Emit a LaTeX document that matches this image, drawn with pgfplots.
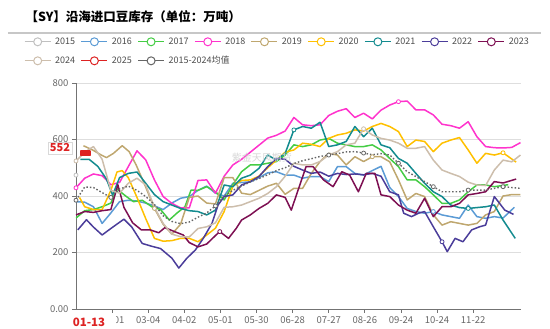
\documentclass[border=0pt]{standalone}
\usepackage{fontspec}
\setmainfont{Noto Sans CJK SC}
\usepackage{pgfplots}
\pgfplotsset{compat=1.18}
\definecolor{c15}{HTML}{C0C0C0}
\definecolor{c16}{HTML}{5B9BD5}
\definecolor{c17}{HTML}{44CC44}
\definecolor{c18}{HTML}{FF33CC}
\definecolor{c19}{HTML}{BFA76F}
\definecolor{c20}{HTML}{FFC000}
\definecolor{c21}{HTML}{138B8F}
\definecolor{c22}{HTML}{4B3D9A}
\definecolor{c23}{HTML}{7D0F52}
\definecolor{c24}{HTML}{CDBEAC}
\definecolor{c25}{HTML}{DD2222}
\definecolor{cavg}{HTML}{666666}
\definecolor{tickgray}{HTML}{666666}
\begin{document}
\begin{tikzpicture}[x=1pt,y=1pt]
\begin{axis}[
  scale only axis, width=445pt, height=226pt,
  xmin=0, xmax=51.06, ymin=0, ymax=800,
  axis x line=bottom, axis y line=left,
  axis line style={-, draw=black!55, line width=0.9pt},
  ymajorgrids, grid style={black!13, line width=0.8pt},
  ytick={0,200,400,600,800}, yticklabels={0.00,200,400,600,800},
  xtick={4.143,8.286,12.429,16.571,20.714,24.857,29.0,33.143,37.286,41.429,45.571},
  xticklabels={02-01,03-04,04-02,05-01,05-30,06-28,07-27,08-26,09-24,10-24,11-22},
  tick align=outside, major tick length=4pt,
  tick style={draw=black!55, line width=0.8pt},
  tick label style={text=tickgray, font=\fontsize{9.5}{11}\selectfont},
  legend columns=9,
  legend style={at={(-0.1236,1.212)}, anchor=north west, draw=none, fill=none,
    font=\fontsize{9}{10}\selectfont, text=black!70,
    nodes={inner sep=0pt},
    /tikz/every odd column/.append style={column sep=4pt},
    /tikz/every even column/.append style={column sep=1.7pt},
    row sep=10pt},
  legend image code/.code={
    \draw[#1, line width=1pt, solid] (0pt,0pt) -- (26pt,0pt);
    \draw[#1, line width=1pt, solid, fill=white] (13pt,0pt) circle (4pt);},
  every axis plot/.append style={line width=1.5pt, line join=round},
  mark options={solid, fill=white, line width=0.8pt}, mark size=2pt,
]
\addplot[c15, mark=*] coordinates {(0,474)};
\addlegendentry{\makebox[24pt][l]{2015}}
\addplot[c16, mark=*, mark indices={42}] coordinates {(0,380)(1,378)(2,362)(3,303)(4,340)(5,380)(6,385)(7,382)(8,375)(9,365)(10,352)(11,375)(12,392)(13,398)(14,420)(15,435)(16,410)(17,400)(18,445)(19,448)(20,450)(21,465)(22,482)(23,486)(24,474)(25,474)(26,463)(27,469)(28,469)(29,451)(30,504)(31,504)(32,480)(33,474)(34,490)(35,505)(36,430)(37,398)(38,356)(39,345)(40,339)(41,345)(42,333)(43,327)(44,321)(45,368)(46,327)(47,321)(48,327)(49,322)(50.3,360)};
\addlegendentry{\makebox[24pt][l]{2016}}
\addplot[c17] coordinates {(0,322)(1,348)(2,352)(3,362)(4,375)(4.7,425)(5.7,400)(6.6,380)(7.6,385)(8.7,362)(9.7,352)(10.7,315)(11.6,340)(12.5,362)(13.2,421)(14,420)(15,433)(16,415)(17,386)(18,440)(19,486)(20,510)(21,510)(22,516)(23,522)(24,545)(25,581)(26,575)(27,581)(28,598)(29,604)(30,587)(31,581)(32,575)(33,575)(34,581)(35,563)(36,533)(37,504)(38,457)(39,457)(40,433)(41,404)(42,374)(43,374)(44,386)(45,415)(46,439)(47,439)(48,433)(49.6,440)};
\addlegendentry{\makebox[24pt][l]{2017}}
\addplot[c18, mark=*, mark indices={1,38}] coordinates {(0,429)(1,463)(2,478)(3,472)(4,440)(5,448)(6,504)(7,560)(8,528)(9,457)(10,398)(11,374)(12,358)(13,358)(14,455)(15,457)(16,410)(17,470)(18,510)(19,530)(20,555)(21,580)(22,605)(23,615)(24,630)(25,678)(26,652)(27,649)(28,652)(29,685)(30,700)(31,709)(32,678)(33,693)(34,673)(35,704)(36,722)(37,734)(38,736)(39,705)(40,705)(41,687)(42,654)(43,649)(44,640)(45,663)(46,610)(47,575)(48,571)(49,570)(50,572)(51,589)};
\addlegendentry{\makebox[24pt][l]{2018}}
\addplot[c19, mark=*, mark indices={10,35}] coordinates {(0.85,578)(1.9,563)(2.9,545)(3.5,536)(4.3,551)(5.3,578)(6.1,557)(6.9,510)(7.9,439)(9,356)(10,300)(11,265)(12,300)(13,395)(14,400)(15,375)(16,372)(17,465)(18,465)(19,410)(20,405)(21,420)(22,435)(23,445)(24,406)(25,427)(26,427)(27,480)(28,522)(29,551)(30,545)(31,510)(32,539)(33,522)(34,539)(35,539)(36,521)(37,457)(38,386)(39,409)(40,398)(41,333)(42,297)(43,309)(44,303)(45,297)(46,303)(47,333)(48,345)(49,400)(50,405)(51,405)};
\addlegendentry{\makebox[24pt][l]{2019}}
\addplot[c20, mark=*, mark indices={51}] coordinates {(0.4,395)(1,362)(2,352)(3,352)(4,420)(4.7,485)(5.3,490)(6,465)(7,395)(8,320)(9,250)(10,240)(11,242)(12,250)(13,250)(14,238)(15,262)(16,286)(17,345)(18,435)(19,455)(20,457)(21,470)(22,500)(23,527)(24,555)(25,563)(26,587)(27,583)(28,575)(29,604)(30,616)(31,622)(32,634)(33,630)(34,646)(35,657)(36,646)(37,628)(38,575)(39,598)(40,593)(41,557)(42,587)(43,598)(44,607)(45,563)(46,516)(47,551)(48,545)(49,553)(50.5,520)};
\addlegendentry{\makebox[24pt][l]{2020}}
\addplot[c21, mark=*, mark indices={26,46}] coordinates {(0.5,530)(1.5,530)(2.5,505)(3.5,460)(4.2,403)(5,465)(6,480)(7,485)(8,445)(9,405)(10,380)(11,368)(12,356)(13,348)(14,345)(15,333)(16,350)(17,439)(18,433)(19,463)(20,474)(21,498)(22,545)(23,527)(24,551)(25,634)(26,646)(27,640)(28,661)(29,575)(30,581)(31,593)(32,646)(33,610)(34,640)(35,581)(36,571)(37,533)(38,516)(39,480)(40,445)(41,415)(42,398)(43,368)(44,359)(45,356)(46,359)(47,362)(48,368)(49,315)(50.4,250)};
\addlegendentry{\makebox[24pt][l]{2021}}
\addplot[c22, mark=*, mark indices={44}] coordinates {(0.2,280)(1.2,316)(2,290)(3,262)(4,285)(5.5,318)(6.4,290)(7.6,232)(8.7,222)(9.7,214)(11,180)(11.8,145)(12.7,179)(13.7,209)(14.6,250)(15.6,303)(16.3,368)(17,398)(18,404)(19,439)(20,451)(21,469)(22,504)(23,533)(24,530)(25,505)(26,492)(27,480)(28,485)(29,470)(30,480)(31,476)(32,478)(33,475)(34,480)(35,470)(36,415)(37,404)(37.6,339)(38.5,327)(39.3,339)(40,345)(41,291)(42,238)(42.6,203)(43.5,250)(44.4,238)(45.4,280)(46.3,291)(47,297)(48,398)(49.2,350)(50.2,335)};
\addlegendentry{\makebox[24pt][l]{2022}}
\addplot[c23, mark=*, mark indices={19}] coordinates {(0,333)(1,345)(2,342)(3,348)(4,352)(4.8,440)(5.5,360)(6.5,305)(7.5,280)(8.5,280)(9.5,270)(10.2,288)(11.3,274)(12.3,262)(13,235)(14,220)(15,230)(16,260)(16.5,274)(17.5,250)(18.4,286)(19,315)(20,333)(21,356)(22,374)(23,404)(24,395)(24.7,350)(26.4,504)(27.2,504)(28.4,457)(29.5,433)(30.5,486)(31.4,474)(32.4,415)(33.3,480)(34.3,480)(35,404)(36,398)(37,368)(38,350)(39,339)(40,392)(41,327)(42,362)(43,362)(44,374)(45,404)(46,409)(47,415)(48,451)(49,446)(50.5,460)};
\addlegendentry{\makebox[24pt][l]{2023}}
\addplot[c24, mark=*, mark indices={1,34}] coordinates {(0,524)(1,555)(2,575)(3,530)(4,420)(5,410)(6,445)(7,463)(8,439)(9,360)(10,303)(11,265)(12,256)(13,255)(14,285)(15,291)(16,305)(17,360)(18,362)(19,368)(20,380)(21,392)(22,409)(23,433)(24,470)(25,516)(26,510)(27,510)(28,522)(29,545)(30,557)(31,581)(32,587)(33,638)(34,616)(35,604)(36,598)(37,587)(38,569)(39,569)(40,575)(41,527)(42,492)(43,480)(44,469)(45,449)(46,439)(47,437)(48,492)(49,527)(50,521)(51,545)};
\addlegendentry{\makebox[24pt][l]{2024}}
\addplot[c25, only marks, mark=square*, mark size=2.2pt, mark options={xscale=2.1, fill=c25, draw=c25}] coordinates {(1.1,552)};
\addlegendentry{\makebox[24pt][l]{2025}}
\addplot[cavg, dotted, line width=1.4pt, mark=*, mark indices={1,5,17,30,34,38,42,46,50}] coordinates {(0,385)(1,432)(2,430)(3,412)(4,395)(5,425)(6,435)(7,420)(8,398)(9,370)(10,330)(11,310)(12,302)(13,308)(14,325)(15,340)(16,365)(17,400)(18,420)(19,435)(20,450)(21,462)(22,475)(23,490)(24,500)(25,515)(26,525)(27,532)(28,540)(29,545)(30,550)(31,556)(32,557)(33,552)(34,546)(35,550)(36,545)(37,516)(38,486)(39,469)(40,451)(41,433)(42,415)(43,415)(44,415)(45,421)(46,421)(47,421)(48,427)(49,433)(50,430)(51,427)};
\addlegendentry{\makebox[24pt][l]{2015-2024均值}}
\coordinate (ll) at (rel axis cs:0,0);
\end{axis}
\begin{scope}[shift={(ll)}, shift={(-76,-20)}]
\node[anchor=west, font=\bfseries\fontsize{12.5}{14}\selectfont] at (22,312) {【SY】沿海进口豆库存（单位：万吨）};
\draw[black!22, line width=1.2pt] (8,296) -- (541,296);
\node[text=black!16, font=\fontsize{10}{12}\selectfont] at (262,171) {紫金天风期货};
\node[fill=white, draw=black!15, inner xsep=2pt, inner ysep=1.5pt, text height=8pt, text depth=0.5pt, text=c25, font=\bfseries\fontsize{11}{13}\selectfont] at (60,181) {552};
\node[fill=white, minimum width=47pt, minimum height=13pt, inner sep=0pt] at (93,7) {};
\node[inner sep=1pt, text=c25, font=\bfseries\fontsize{11.5}{13}\selectfont] at (89,7) {01-13};
\end{scope}
\pgfresetboundingbox
\path[use as bounding box] ([shift={(-76,-20)}]ll) rectangle ([shift={(474,309)}]ll);
\end{tikzpicture}
\end{document}
